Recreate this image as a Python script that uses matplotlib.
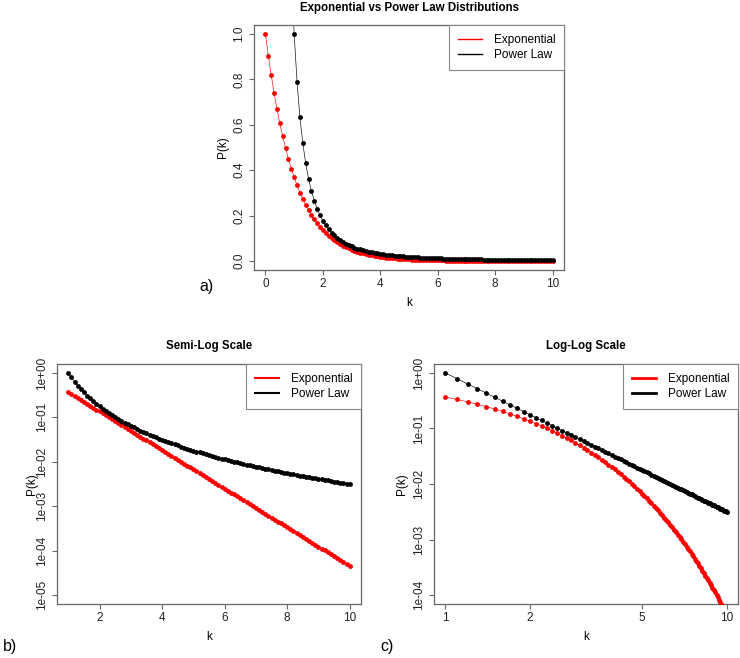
import numpy as np
import matplotlib
matplotlib.use("Agg")
import matplotlib.pyplot as plt

plt.rcParams['font.family'] = ['Liberation Sans', 'DejaVu Sans']

# k grid (step 0.1)
k_all = np.round(np.arange(0, 101) * 0.1, 1)          # 0.0 .. 10.0
k_pow = np.round(np.arange(9, 101) * 0.1, 1)          # 0.9 .. 10.0

exp_vals = [1, 0.9048, 0.8187, 0.7408, 0.6703, 0.6065, 0.5488, 0.4966, 0.4493, 0.4066, 0.3679,
            0.3329, 0.3012, 0.2725, 0.2466, 0.2231, 0.2019, 0.1827, 0.1653, 0.1496, 0.1353,
            0.1225, 0.1108, 0.1003, 0.09072, 0.08208, 0.07427, 0.06721, 0.06081, 0.05502, 0.04979,
            0.04505, 0.04076, 0.03688, 0.03337, 0.0302, 0.02732, 0.02472, 0.02237, 0.02024, 0.01832,
            0.01657, 0.015, 0.01357, 0.01228, 0.01111, 0.01005, 0.009095, 0.00823, 0.007447, 0.006738,
            0.006097, 0.005517, 0.004992, 0.004517, 0.004087, 0.003698, 0.003346, 0.003028, 0.002739,
            0.002479, 0.002243, 0.002029, 0.001836, 0.001662, 0.001503, 0.00136, 0.001231, 0.001114,
            0.001008, 0.0009119, 0.0008251, 0.0007466, 0.0006755, 0.0006113, 0.0005531, 0.0005005,
            0.0004528, 0.0004097, 0.0003707, 0.0003355, 0.0003035, 0.0002747, 0.0002485, 0.0002249,
            0.0002035, 0.0001841, 0.0001666, 0.0001507, 0.0001364, 0.0001234, 0.0001117, 0.000101,
            9.142e-05, 8.272e-05, 7.485e-05, 6.773e-05, 6.128e-05, 5.545e-05, 5.017e-05, 4.54e-05]

pow_vals = [1.301, 1, 0.788, 0.6339, 0.519, 0.4312, 0.3629, 0.3088, 0.2654, 0.23, 0.201, 0.1768,
            0.1565, 0.1393, 0.1246, 0.1121, 0.1012, 0.09174, 0.08348, 0.07623, 0.06982, 0.06415,
            0.0591, 0.05459, 0.05055, 0.04691, 0.04363, 0.04067, 0.03797, 0.03553, 0.03329, 0.03125,
            0.02938, 0.02766, 0.02608, 0.02462, 0.02328, 0.02203, 0.02088, 0.01981, 0.01882, 0.01789,
            0.01702, 0.01622, 0.01546, 0.01476, 0.0141, 0.01348, 0.01289, 0.01234, 0.01183, 0.01134,
            0.01088, 0.01045, 0.01004, 0.009651, 0.009284, 0.008936, 0.008606, 0.008293, 0.007996,
            0.007714, 0.007445, 0.007189, 0.006945, 0.006713, 0.006492, 0.00628, 0.006078, 0.005885,
            0.005701, 0.005524, 0.005355, 0.005194, 0.005039, 0.00489, 0.004747, 0.004611, 0.004479,
            0.004353, 0.004232, 0.004115, 0.004003, 0.003895, 0.003791, 0.003691, 0.003595, 0.003502,
            0.003412, 0.003326, 0.003243, 0.003162]

series_names = ["Exponential", "Power Law"]
titles = ["Exponential vs Power Law Distributions", "Semi-Log Scale", "Log-Log Scale"]
panel_tags = ["a)", "b)", "c)"]

top_xticks = [0, 2, 4, 6, 8, 10]
top_yticks = [0.0, 0.2, 0.4, 0.6, 0.8, 1.0]
top_ylabels = ["0.0", "0.2", "0.4", "0.6", "0.8", "1.0"]
semi_xticks = [2, 4, 6, 8, 10]
semi_yticks = [1e-5, 1e-4, 1e-3, 1e-2, 1e-1, 1e0]
semi_ylabels = ["1e-05", "1e-04", "1e-03", "1e-02", "1e-01", "1e+00"]
log_xticks = [1, 2, 5, 10]
log_yticks = [1e-4, 1e-3, 1e-2, 1e-1, 1e0]
log_ylabels = ["1e-04", "1e-03", "1e-02", "1e-01", "1e+00"]

W, H = 740, 658
fig = plt.figure(figsize=(W / 100, H / 100), dpi=100)

def axes_px(l, t, r, b):
    return fig.add_axes([l / W, 1 - b / H, (r - l) / W, (b - t) / H])

FRAME = '#666666'
TICKFS = 8.5
TITLEFS = 8.3

ax_top = axes_px(254, 25, 564, 270)
ax_semi = axes_px(57, 364, 361, 604)
ax_log = axes_px(434, 364, 738, 604)

e_all = np.array(exp_vals)
p_all = np.array(pow_vals)
mask_e = k_all >= 1
mask_p = k_pow >= 1

def draw(ax, xe, ye, xp, yp, leg_lw):
    ax.plot(xe, ye, color='red', lw=0.45, zorder=2)
    ax.plot(xp, yp, color='black', lw=0.45, zorder=2)
    ax.plot(xe, ye, ls='none', marker='o', ms=3.5, mfc='red', mec='none', zorder=3)
    ax.plot(xp, yp, ls='none', marker='o', ms=3.5, mfc='black', mec='none', zorder=3)
    h1, = ax.plot([], [], color='red', lw=leg_lw)
    h2, = ax.plot([], [], color='black', lw=leg_lw)
    leg = ax.legend([h1, h2], series_names, loc='upper right', borderaxespad=0,
                    fontsize=TICKFS, handlelength=2.0, handletextpad=1.0, borderpad=0.75,
                    labelspacing=0.25, fancybox=False, framealpha=1)
    leg.get_frame().set_edgecolor('#888888')
    leg.get_frame().set_linewidth(0.8)

def style(ax, xticks, xlabels, yticks, ylabels, title, ylab_off):
    for s in ax.spines.values():
        s.set_color(FRAME)
        s.set_linewidth(0.9)
    ax.set_xticks(xticks)
    ax.set_xticklabels(xlabels)
    ax.set_yticks(yticks)
    ax.set_yticklabels(ylabels)
    ax.minorticks_off()
    ax.tick_params(length=3.6, width=0.8, color=FRAME, labelsize=TICKFS, pad=2.5,
                   labelcolor='#222222')
    for lab in ax.get_yticklabels():
        lab.set_rotation(90)
        lab.set_va('center')
    ax.annotate(title, (0.5, 1), xycoords='axes fraction', xytext=(0, 17.5 * 0.72),
                textcoords='offset points', ha='center', va='center',
                fontsize=TITLEFS, fontweight='bold')
    ax.annotate('k', (0.5, 0), xycoords='axes fraction', xytext=(0, -32.5 * 0.72),
                textcoords='offset points', ha='center', va='center', fontsize=TICKFS)
    ax.annotate('P(k)', (0, 0.5), xycoords='axes fraction', xytext=(-ylab_off * 0.72, 0),
                textcoords='offset points', ha='center', va='center', fontsize=TICKFS,
                rotation=90)

# a) linear
draw(ax_top, k_all, e_all, k_pow, p_all, 1.0)
ax_top.set_xlim(-0.4, 10.4)
ax_top.set_ylim(-0.04, 1.04)
style(ax_top, top_xticks, [str(v) for v in top_xticks], top_yticks, top_ylabels, titles[0], 31)

# b) semi-log
draw(ax_semi, k_all[mask_e], e_all[mask_e], k_pow[mask_p], p_all[mask_p], 1.5)
ax_semi.set_yscale('log')
ax_semi.set_xlim(0.64, 10.36)
ax_semi.set_ylim(10 ** -5.2, 10 ** 0.2)
style(ax_semi, semi_xticks, [str(v) for v in semi_xticks], semi_yticks, semi_ylabels, titles[1], 25)

# c) log-log
draw(ax_log, k_all[mask_e], e_all[mask_e], k_pow[mask_p], p_all[mask_p], 2.0)
ax_log.set_xscale('log')
ax_log.set_yscale('log')
ax_log.set_xlim(10 ** -0.04, 10 ** 1.04)
ax_log.set_ylim(10 ** -4.16, 10 ** 0.16)
style(ax_log, log_xticks, [str(v) for v in log_xticks], log_yticks, log_ylabels, titles[2], 32)

fig.text(207 / W, 1 - 287 / H, panel_tags[0], ha='center', va='center', fontsize=11.5)
fig.text(10 / W, 1 - 646 / H, panel_tags[1], ha='center', va='center', fontsize=11.5)
fig.text(387 / W, 1 - 646 / H, panel_tags[2], ha='center', va='center', fontsize=11.5)

fig.savefig("out.png", dpi=100)
